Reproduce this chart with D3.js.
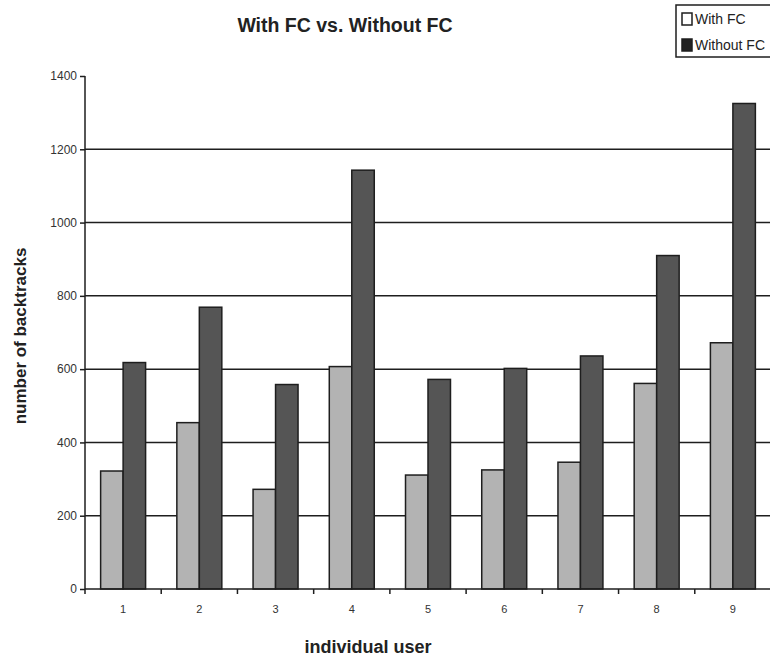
<!DOCTYPE html>
<html>
<head>
<meta charset="utf-8">
<script src="https://cdn.jsdelivr.net/npm/d3@7"></script>
<style>
  html, body { margin: 0; padding: 0; background: #fff; }
  svg { display: block; }
  text { font-family: "Liberation Sans", Arial, Helvetica, sans-serif; }
</style>
</head>
<body>
<svg id="chart" width="770" height="657"></svg>
<script>
const categories = ["1", "2", "3", "4", "5", "6", "7", "8", "9"];
const seriesNames = ["With FC", "Without FC"];
const withFC = [322, 454, 272, 607, 311, 325, 346, 561, 672];
const withoutFC = [618, 769, 558, 1143, 572, 602, 636, 910, 1325];
const yTicks = [0, 200, 400, 600, 800, 1000, 1200, 1400];
const gridValues = [200, 400, 600, 800, 1000, 1200];

const barFill = ["#b3b3b3", "#555555"];
const legendFill = ["#ffffff", "#222222"];
const ink = "#1e1e1e";

const svg = d3.select("#chart");
svg.append("rect").attr("width", 770).attr("height", 657).attr("fill", "#fff");

const y = d3.scaleLinear().domain([0, 1400]).range([589, 76]);
const x = d3.scaleBand().domain(categories).range([85, 771]).paddingInner(0.41).paddingOuter(0.205);
const x1 = d3.scaleBand().domain(seriesNames).range([0, x.bandwidth()]);

// gridlines
svg.append("g").selectAll("line").data(gridValues).join("line")
  .attr("x1", 85).attr("x2", 770)
  .attr("y1", d => y(d)).attr("y2", d => y(d))
  .attr("stroke", ink).attr("stroke-width", 1.5);

// bars
const rows = categories.map((c, i) => ({ c, vals: [withFC[i], withoutFC[i]] }));
const groups = svg.append("g").selectAll("g").data(rows).join("g")
  .attr("transform", d => `translate(${x(d.c)},0)`);
groups.selectAll("rect").data(d => d.vals.map((v, k) => ({ v, k })))
  .join("rect")
  .attr("x", d => x1(seriesNames[d.k]))
  .attr("y", d => y(d.v))
  .attr("width", x1.bandwidth())
  .attr("height", d => y(0) - y(d.v))
  .attr("fill", d => barFill[d.k])
  .attr("stroke", ink).attr("stroke-width", 1.5);

// y axis
const yAxis = svg.append("g").attr("transform", "translate(85,0)")
  .call(d3.axisLeft(y).tickValues(yTicks).tickSize(5).tickPadding(3).tickFormat(d3.format("d")));
yAxis.select(".domain").attr("stroke", ink).attr("stroke-width", 1.5).attr("d", `M0,${y(1400)}V${y(0)}`);
yAxis.selectAll(".tick line").attr("stroke", ink).attr("stroke-width", 1.5);
yAxis.selectAll(".tick text").attr("font-size", 12).attr("fill", "#333")
  .attr("font-family", "'Liberation Sans', Arial, sans-serif");

// x axis
const xg = svg.append("g");
xg.append("line").attr("x1", 85).attr("x2", 770).attr("y1", y(0)).attr("y2", y(0))
  .attr("stroke", ink).attr("stroke-width", 1.5);
const boundaries = categories.map(c => x(c) - x.step() * x.paddingInner() / 2);
xg.selectAll("line.tk").data(boundaries).join("line").attr("class", "tk")
  .attr("x1", d => d).attr("x2", d => d).attr("y1", y(0)).attr("y2", y(0) + 5)
  .attr("stroke", ink).attr("stroke-width", 1.5);
xg.selectAll("text").data(categories).join("text")
  .attr("x", d => x(d) + x.bandwidth() / 2).attr("y", 613)
  .attr("text-anchor", "middle").attr("font-size", 11).attr("fill", "#333")
  .text(d => d);

// title & axis titles
svg.append("text").attr("x", 345).attr("y", 32).attr("text-anchor", "middle")
  .attr("font-size", 19.5).attr("font-weight", "bold").attr("fill", "#222")
  .text("With FC vs. Without FC");
svg.append("text").attr("transform", "translate(25.5,336) rotate(-90)")
  .attr("text-anchor", "middle").attr("font-size", 17).attr("font-weight", "bold").attr("fill", "#222")
  .text("number of backtracks");
svg.append("text").attr("x", 368).attr("y", 653).attr("text-anchor", "middle")
  .attr("font-size", 18).attr("font-weight", "bold").attr("fill", "#222")
  .text("individual user");

// legend
const lg = svg.append("g");
lg.append("rect").attr("x", 676).attr("y", 5).attr("width", 100).attr("height", 52)
  .attr("fill", "#fff").attr("stroke", ink).attr("stroke-width", 1.5);
const li = lg.selectAll("g").data(seriesNames).join("g")
  .attr("transform", (d, i) => `translate(682,${13 + i * 26})`);
li.append("rect").attr("width", 10).attr("height", 12)
  .attr("fill", (d, i) => legendFill[i]).attr("stroke", ink).attr("stroke-width", 1.5);
li.append("text").attr("x", 13).attr("y", 11).attr("font-size", 14).attr("fill", "#222")
  .text(d => d);
</script>
</body>
</html>
